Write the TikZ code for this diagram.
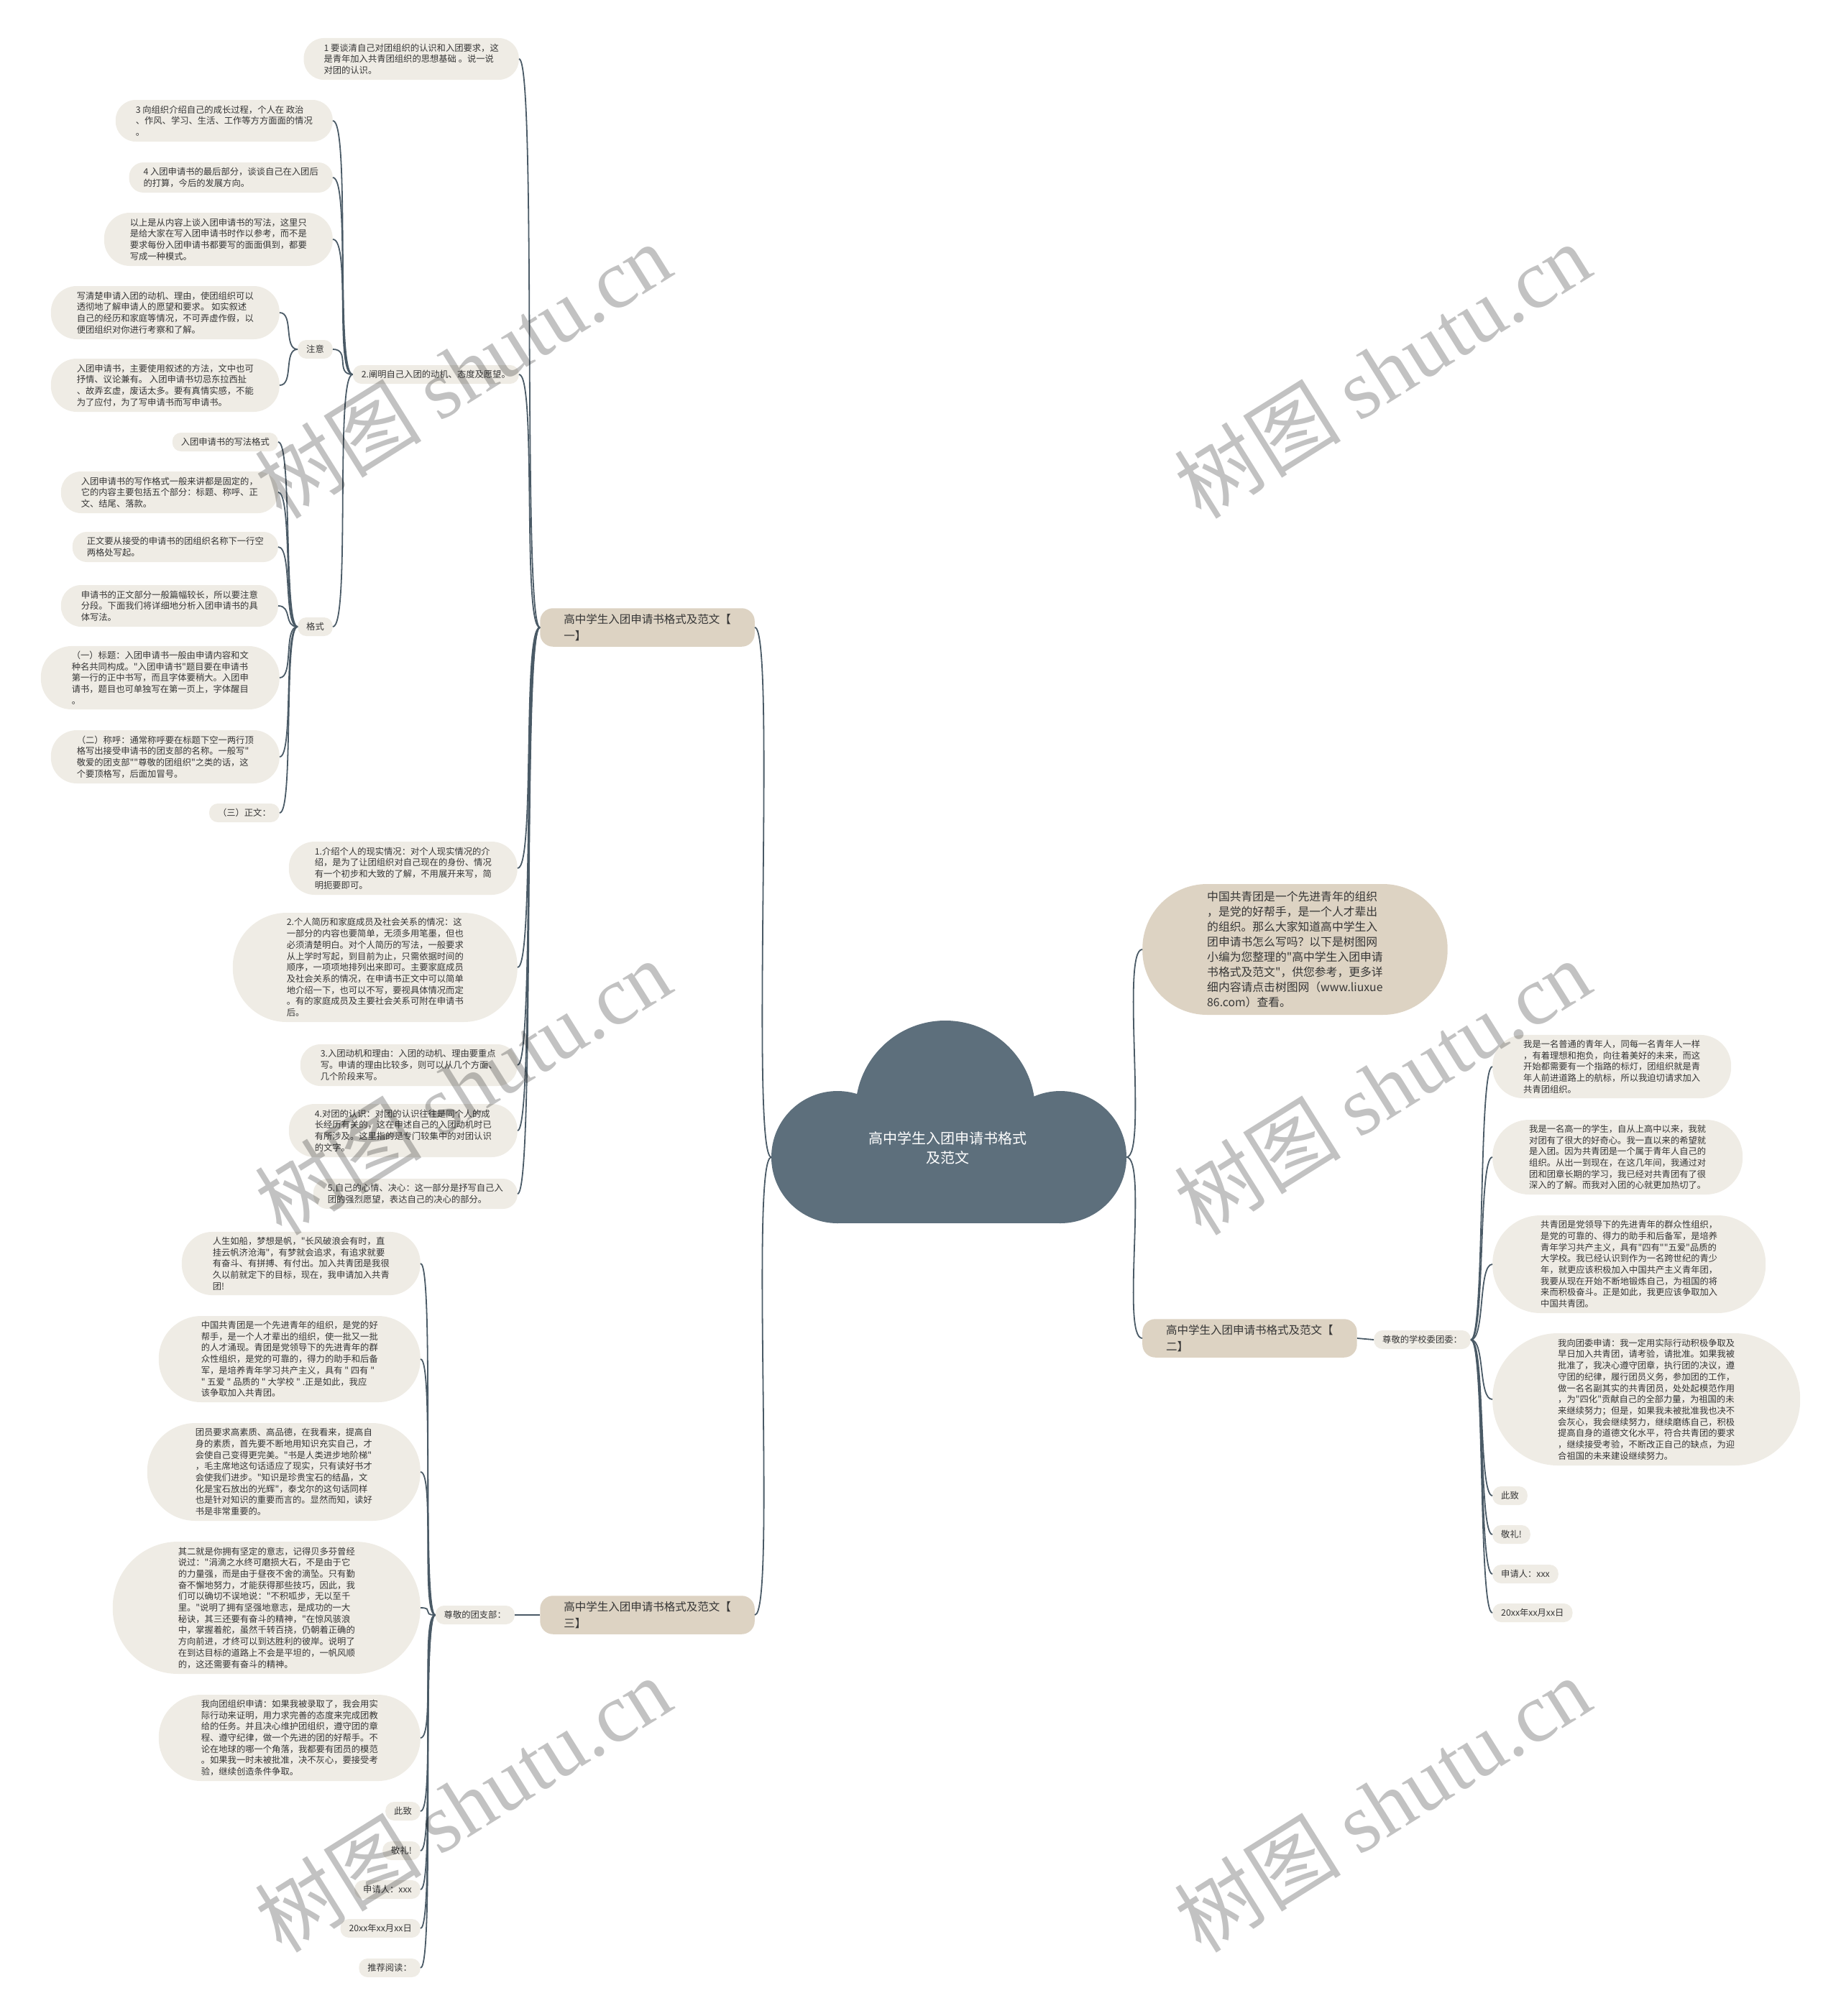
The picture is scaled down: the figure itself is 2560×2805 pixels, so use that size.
\documentclass[tikz,border=0pt]{standalone}
\usepackage{fontspec}
\setmainfont{Noto Sans CJK SC}[Ligatures=TeXOff]
\newfontfamily\wmserif{Liberation Serif}

\definecolor{leafbg}{HTML}{EFECE5}
\definecolor{mainbg}{HTML}{DDD3C3}
\definecolor{cloudc}{HTML}{5D6F7C}
\definecolor{linec}{HTML}{4A5A66}
\definecolor{txt}{HTML}{363636}

\tikzset{
  leaf/.style={rectangle, fill=leafbg, text=txt, align=left, rounded corners=#1,
    inner xsep=#1, inner ysep=7pt, minimum height=2*#1+2,
    font=\fontsize{12.3}{15.7}\selectfont},
  leaf/.default=12,
  branch/.style={rectangle, rounded corners=18pt, fill=mainbg, text=txt, align=left,
    inner xsep=33pt, inner ysep=8pt, font=\fontsize{15.5}{23}\selectfont},
  intro/.style={rectangle, fill=mainbg, text=txt, align=left, rounded corners=90pt,
    inner xsep=90pt, inner ysep=10pt, minimum height=182pt,
    font=\fontsize{15.8}{21}\selectfont},
  conn/.style={draw=linec, line width=1.8pt},
  wmark/.style={rotate=32, text=black, text opacity=0.24, font=\fontsize{116}{120}\selectfont}
}

\begin{document}
\begin{tikzpicture}[x=1pt, y=-1pt]
  \useasboundingbox (0,0) rectangle (2560,2805);

  % Cloud
  \fill[cloudc] (1315,1545) circle (125);
  \fill[cloudc] (1165,1610) circle (92);
  \fill[cloudc] (1475,1610) circle (92);
  \fill[cloudc] (1165,1545) rectangle (1475,1702);
  \node[text=white, align=center, font=\fontsize{20}{27}\selectfont] (root) at (1318,1597)
    {高中学生入团申请书格式\\及范文};
  \coordinate (rootL) at (1073,1610);
  \coordinate (rootR) at (1567,1610);

  % Branches
  \node[branch, anchor=east] (b1) at (1050,873) {高中学生入团申请书格式及范文【\\一】};
  \node[branch, anchor=east] (b3) at (1050,2247) {高中学生入团申请书格式及范文【\\三】};
  \node[branch, anchor=west] (b2) at (1589,1862) {高中学生入团申请书格式及范文【\\二】};
  \node[intro, anchor=west] (intro) at (1589,1321) {中国共青团是一个先进青年的组织\\，是党的好帮手，是一个人才辈出\\的组织。那么大家知道高中学生入\\团申请书怎么写吗？以下是树图网\\小编为您整理的"高中学生入团申请\\书格式及范文"，供您参考，更多详\\细内容请点击树图网（www.liuxue\\86.com）查看。};

  % Branch one
  \node[leaf=28, anchor=east] (a1) at (722,82) {1 要谈清自己对团组织的认识和入团要求，这\\是青年加入共青团组织的思想基础 。说一说\\对团的认识。};
  \node[leaf, anchor=east] (a2) at (722,521) {2.阐明自己入团的动机、态度及愿望。};
  \node[leaf=36, anchor=east] (a3) at (720,1208) {1.介绍个人的现实情况：对个人现实情况的介\\绍，是为了让团组织对自己现在的身份、情况\\有一个初步和大致的了解，不用展开来写，简\\明扼要即可。};
  \node[leaf=75, anchor=east] (a4) at (720,1346) {2.个人简历和家庭成员及社会关系的情况：这\\一部分的内容也要简单，无须多用笔墨，但也\\必须清楚明白。对个人简历的写法，一般要求\\从上学时写起，到目前为止，只需依据时间的\\顺序，一项项地排列出来即可。主要家庭成员\\及社会关系的情况，在申请书正文中可以简单\\地介绍一下，也可以不写，要视具体情况而定\\。有的家庭成员及主要社会关系可附在申请书\\后。};
  \node[leaf=28, anchor=east] (a5) at (720,1482) {3.入团动机和理由：入团的动机、理由要重点\\写。申请的理由比较多，则可以从几个方面、\\几个阶段来写。};
  \node[leaf=36, anchor=east] (a6) at (720,1573) {4.对团的认识：对团的认识往往是同个人的成\\长经历有关的，这在申述自己的入团动机时已\\有所涉及。这里指的是专门较集中的对团认识\\的文字。};
  \node[leaf=20, anchor=east] (a7) at (720,1661) {5.自己的心情、决心：这一部分是抒写自己入\\团的强烈愿望，表达自己的决心的部分。};

  \node[leaf=28, anchor=east] (c1) at (463,168) {3 向组织介绍自己的成长过程，个人在 政治\\、作风、学习、生活、工作等方方面面的情况\\。};
  \node[leaf=20, anchor=east] (c2) at (463,247) {4 入团申请书的最后部分，谈谈自己在入团后\\的打算，今后的发展方向。};
  \node[leaf=36, anchor=east] (c3) at (463,333) {以上是从内容上谈入团申请书的写法，这里只\\是给大家在写入团申请书时作以参考，而不是\\要求每份入团申请书都要写的面面俱到，都要\\写成一种模式。};
  \node[leaf, anchor=east] (zy) at (463,486) {注意};
  \node[leaf, anchor=east] (gs) at (463,872) {格式};

  \node[leaf=36, anchor=east] (z1) at (389,435) {写清楚申请入团的动机、理由，使团组织可以\\透彻地了解申请人的愿望和要求。 如实叙述\\自己的经历和家庭等情况，不可弄虚作假，以\\便团组织对你进行考察和了解。};
  \node[leaf=36, anchor=east] (z2) at (389,536) {入团申请书，主要使用叙述的方法，文中也可\\抒情、议论兼有。 入团申请书切忌东拉西扯\\、故弄玄虚，废话太多。要有真情实感，不能\\为了应付，为了写申请书而写申请书。};

  \node[leaf, anchor=east] (g1) at (387,615) {入团申请书的写法格式};
  \node[leaf=28, anchor=east] (g2) at (387,685) {入团申请书的写作格式一般来讲都是固定的，\\它的内容主要包括五个部分：标题、称呼、正\\文、结尾、落款。};
  \node[leaf=20, anchor=east] (g3) at (387,761) {正文要从接受的申请书的团组织名称下一行空\\两格处写起。};
  \node[leaf=28, anchor=east] (g4) at (387,843) {申请书的正文部分一般篇幅较长，所以要注意\\分段。下面我们将详细地分析入团申请书的具\\体写法。};
  \node[leaf=43, anchor=east] (g5) at (389,943) {（一）标题：入团申请书一般由申请内容和文\\种名共同构成。"入团申请书"题目要在申请书\\第一行的正中书写，而且字体要稍大。入团申\\请书，题目也可单独写在第一页上，字体醒目\\。};
  \node[leaf=36, anchor=east] (g6) at (389,1053) {（二）称呼：通常称呼要在标题下空一两行顶\\格写出接受申请书的团支部的名称。一般写"\\敬爱的团支部""尊敬的团组织"之类的话，这\\个要顶格写，后面加冒号。};
  \node[leaf, anchor=east] (g7) at (389,1131) {（三）正文：};

  % Branch two
  \node[leaf, anchor=west] (xw) at (1911,1864) {尊敬的学校委团委：};
  \node[leaf=43, anchor=west] (r1) at (2076,1484) {我是一名普通的青年人，同每一名青年人一样\\，有着理想和抱负，向往着美好的未来，而这\\开始都需要有一个指路的标灯，团组织就是青\\年人前进道路上的航标，所以我迫切请求加入\\共青团组织。};
  \node[leaf=51, anchor=west] (r2) at (2076,1610) {我是一名高一的学生，自从上高中以来，我就\\对团有了很大的好奇心。我一直以来的希望就\\是入团。因为共青团是一个属于青年人自己的\\组织。从出一到现在，在这几年间，我通过对\\团和团章长期的学习，我已经对共青团有了很\\深入的了解。而我对入团的心就更加热切了。};
  \node[leaf=67, anchor=west] (r3) at (2076,1759) {共青团是党领导下的先进青年的群众性组织，\\是党的可靠的、得力的助手和后备军，是培养\\青年学习共产主义，具有"四有""五爱"品质的\\大学校。我已经认识到作为一名跨世纪的青少\\年，就更应该积极加入中国共产主义青年团，\\我要从现在开始不断地锻炼自己，为祖国的将\\来而积极奋斗。正是如此，我更应该争取加入\\中国共青团。};
  \node[leaf=91, anchor=west] (r4) at (2076,1947) {我向团委申请：我一定用实际行动积极争取及\\早日加入共青团，请考验，请批准。如果我被\\批准了，我决心遵守团章，执行团的决议，遵\\守团的纪律，履行团员义务，参加团的工作，\\做一名名副其实的共青团员，处处起模范作用\\，为"四化"贡献自己的全部力量，为祖国的未\\来继续努力；但是，如果我未被批准我也决不\\会灰心，我会继续努力，继续磨练自己，积极\\提高自身的道德文化水平，符合共青团的要求\\，继续接受考验，不断改正自己的缺点，为迎\\合祖国的未来建设继续努力。};
  \node[leaf, anchor=west] (r5) at (2076,2081) {此致};
  \node[leaf, anchor=west] (r6) at (2076,2135) {敬礼!};
  \node[leaf, anchor=west] (r7) at (2076,2190) {申请人：xxx};
  \node[leaf, anchor=west] (r8) at (2076,2244) {20xx年xx月xx日};

  % Branch three
  \node[leaf, anchor=east] (tz) at (716,2247) {尊敬的团支部：};
  \node[leaf=43, anchor=east] (s1) at (585,1758) {人生如船，梦想是帆，"长风破浪会有时，直\\挂云帆济沧海"，有梦就会追求，有追求就要\\有奋斗、有拼搏、有付出。加入共青团是我很\\久以前就定下的目标，现在，我申请加入共青\\团!};
  \node[leaf=59, anchor=east] (s2) at (585,1891) {中国共青团是一个先进青年的组织，是党的好\\帮手，是一个人才辈出的组织，使一批又一批\\的人才涌现。青团是党领导下的先进青年的群\\众性组织，是党的可靠的，得力的助手和后备\\军，是培养青年学习共产主义，具有 " 四有 "\\ " 五爱 " 品质的 " 大学校 " .正是如此，我应\\该争取加入共青团。};
  \node[leaf=67, anchor=east] (s3) at (585,2048) {团员要求高素质、高品德，在我看来，提高自\\身的素质，首先要不断地用知识充实自己，才\\会使自己变得更完美。"书是人类进步地阶梯"\\，毛主席地这句话适应了现实，只有读好书才\\会使我们进步。"知识是珍贵宝石的结晶，文\\化是宝石放出的光辉"，泰戈尔的这句话同样\\也是针对知识的重要而言的。显然而知，读好\\书是非常重要的。};
  \node[leaf=91, anchor=east] (s4) at (585,2237) {其二就是你拥有坚定的意志，记得贝多芬曾经\\说过："涓滴之水终可磨损大石，不是由于它\\的力量强，而是由于昼夜不舍的滴坠。只有勤\\奋不懈地努力，才能获得那些技巧，因此，我\\们可以确切不误地说："不积呱步，无以至千\\里。"说明了拥有坚强地意志，是成功的一大\\秘诀，其三还要有奋斗的精神，"在惊风骇浪\\中，掌握着舵，虽然千转百挠，仍朝着正确的\\方向前进，才终可以到达胜利的彼岸。说明了\\在到达目标的道路上不会是平坦的，一帆风顺\\的，这还需要有奋斗的精神。};
  \node[leaf=59, anchor=east] (s5) at (585,2418) {我向团组织申请：如果我被录取了，我会用实\\际行动来证明，用力求完善的态度来完成团教\\给的任务。并且决心维护团组织，遵守团的章\\程、遵守纪律，做一个先进的团的好帮手。不\\论在地球的哪一个角落，我都要有团员的模范\\。如果我一时未被批准，决不灰心，要接受考\\验，继续创造条件争取。};
  \node[leaf, anchor=east] (s6) at (585,2520) {此致};
  \node[leaf, anchor=east] (s7) at (585,2575) {敬礼!};
  \node[leaf, anchor=east] (s8) at (585,2629) {申请人：xxx};
  \node[leaf, anchor=east] (s9) at (585,2683) {20xx年xx月xx日};
  \node[leaf, anchor=east] (s10) at (585,2738) {推荐阅读：};

  % Connectors
  \foreach \c in {b1,b3}
    \draw[conn] (rootL) .. controls +(-30,0) and +(30,0) .. (\c.east);
  \foreach \c in {intro,b2}
    \draw[conn] (rootR) .. controls +(30,0) and +(-30,0) .. (\c.west);
  \foreach \c in {a1,a2,a3,a4,a5,a6,a7}
    \draw[conn] (b1.west) .. controls +(-25,0) and +(25,0) .. (\c.east);
  \foreach \c in {c1,c2,c3,zy,gs}
    \draw[conn] (a2.west) .. controls +(-25,0) and +(25,0) .. (\c.east);
  \foreach \c in {z1,z2}
    \draw[conn] (zy.west) .. controls +(-20,0) and +(20,0) .. (\c.east);
  \foreach \c in {g1,g2,g3,g4,g5,g6,g7}
    \draw[conn] (gs.west) .. controls +(-20,0) and +(20,0) .. (\c.east);
  \draw[conn] (b2.east) -- (xw.west);
  \foreach \c in {r1,r2,r3,r4,r5,r6,r7,r8}
    \draw[conn] (xw.east) .. controls +(20,0) and +(-20,0) .. (\c.west);
  \draw[conn] (b3.west) -- (tz.east);
  \foreach \c in {s1,s2,s3,s4,s5,s6,s7,s8,s9,s10}
    \draw[conn] (tz.west) .. controls +(-20,0) and +(20,0) .. (\c.east);

  % Watermarks
  \foreach \wx/\wy [count=\i] in {644/515, 1923/515, 644/1512, 1923/1512, 644/2510, 1923/2510}
    \node[wmark] (wm\i) at (\wx,\wy) {树图 {\wmserif shutu.cn}};
\end{tikzpicture}
\end{document}
